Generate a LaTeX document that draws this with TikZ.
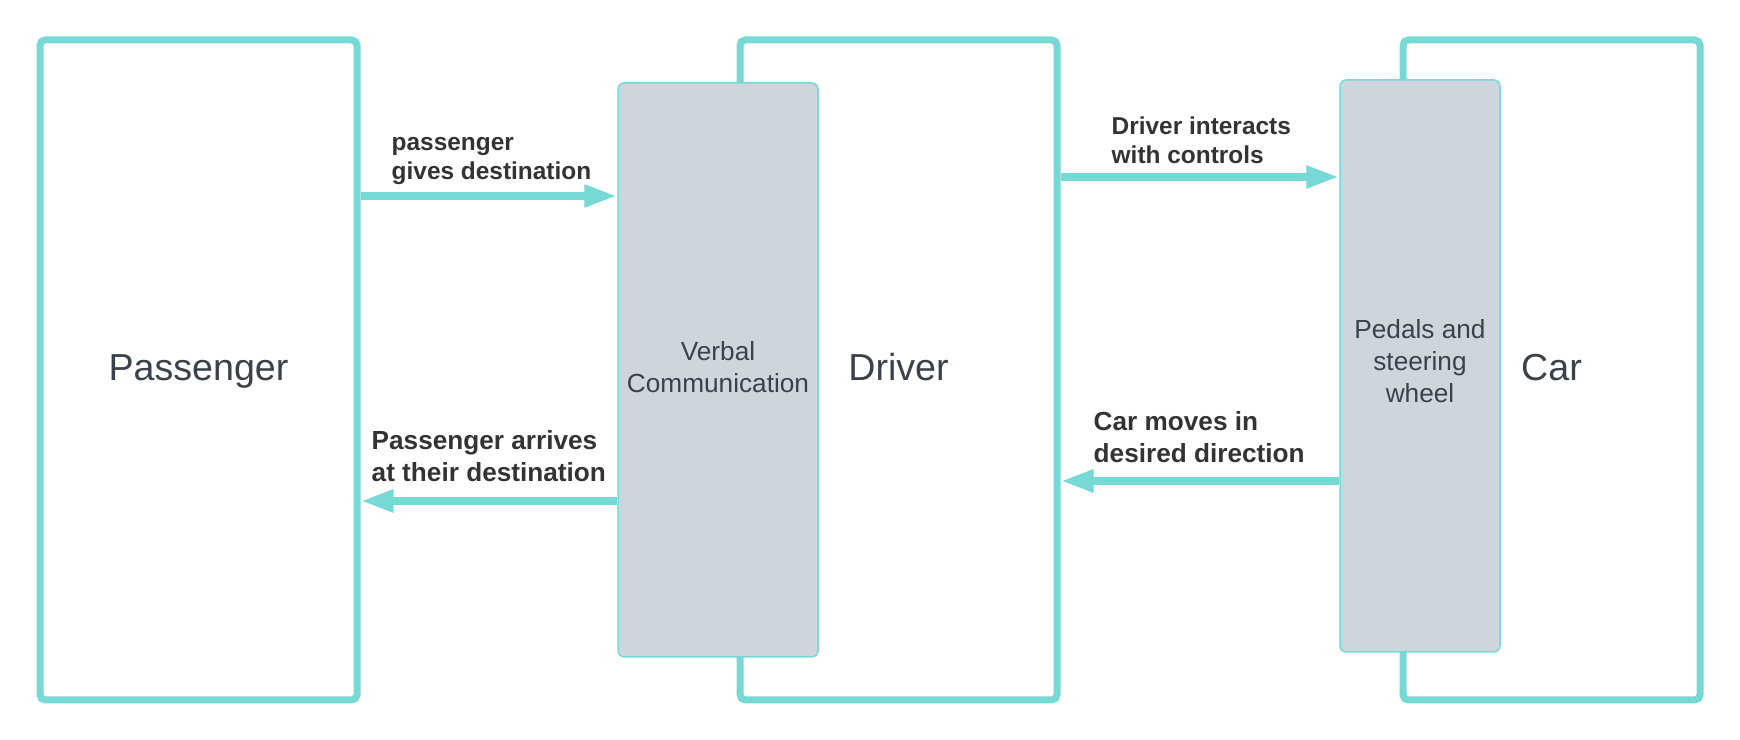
\documentclass[tikz,border=0pt]{standalone}
\usepackage{fontspec}
\setmainfont{Liberation Sans}
\usetikzlibrary{arrows.meta}
\definecolor{teal}{RGB}{118,217,214}
\definecolor{greyfill}{RGB}{206,213,221}
\definecolor{labelgrey}{RGB}{58,65,74}
\definecolor{darktext}{RGB}{51,51,51}
\tikzset{
	party/.style={draw=teal, line width=0.07cm, rounded corners=1.5pt, minimum height=6.6cm, text=labelgrey, text height=0.29cm, text depth=0.08cm, font=\fontsize{10.7pt}{12pt}\selectfont},
	medium/.style={draw=teal, fill=greyfill, line width=0.015cm, rounded corners=1.8pt, inner sep=0pt, text=labelgrey, align=center, font=\fontsize{7.46pt}{9.1pt}\selectfont},
	flow/.style={draw=teal, line width=0.08cm, -{Triangle[length=0.33cm, width=0.21cm]}},
	msg/.style={anchor=base west, inner sep=0pt, align=left, text=darktext, font=\fontsize{6.95pt}{8.5pt}\selectfont\bfseries},
	bigmsg/.style={msg, font=\fontsize{7.45pt}{9.1pt}\selectfont\bfseries}
}

\begin{document}
\begin{tikzpicture}
		\useasboundingbox (0,0) rectangle (17.4,7.4);
		\node (pass)[party, minimum width=3.17cm]at (1.985,3.7)  {Passenger};
		\node (driver)[party, minimum width=3.17cm]at (8.985,3.7)  {Driver};
		\node (car)[party, minimum width=2.97cm]at (15.515,3.7)  {Car};
		\node (verbal)[medium, minimum width=2cm, minimum height=5.74cm]at (7.18,3.7)  {Verbal\\Communication\rule[-0.05cm]{0pt}{0.1cm}};
		\node (pedals)[medium, minimum width=1.6cm, minimum height=5.72cm]at (14.2,3.74)  {Pedals and\\steering\\wheel\strut};

		\coordinate (gives) at ([yshift=1.74cm]pass.east);
		\coordinate (arrives) at ([yshift=-1.31cm]verbal.west);
		\coordinate (interacts) at ([yshift=1.93cm]driver.east);
		\coordinate (moves) at ([yshift=-1.15cm]pedals.west);

		\draw [flow](gives)--(gives -| verbal.west);
		\draw [flow](arrives)--(arrives -| pass.east);
		\draw [flow](interacts)--(interacts -| pedals.west);
		\draw [flow](moves)--(moves -| driver.east);

		\node (givestext)[msg]at (3.91,5.60)  {passenger\\gives destination};
		\node (arrivestext)[bigmsg]at (3.71,2.58)  {Passenger arrives\\at their destination};
		\node (interactstext)[msg]at (11.11,5.76)  {Driver interacts\\with controls};
		\node (movestext)[bigmsg]at (10.93,2.77)  {Car moves in\\desired direction};
	\end{tikzpicture}
\end{document}
